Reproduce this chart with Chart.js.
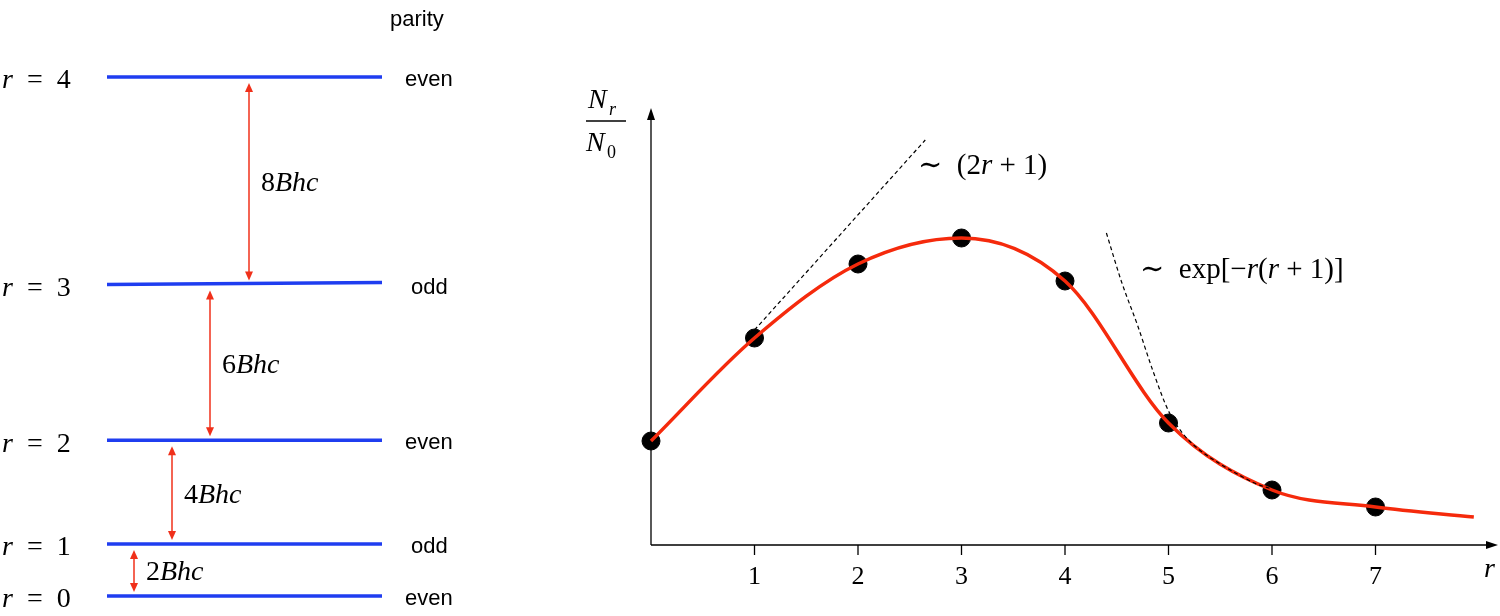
<!DOCTYPE html>
<html><head><meta charset="utf-8">
<script src="https://cdn.jsdelivr.net/npm/chart.js@4"></script>
<style>
html,body{margin:0;padding:0;background:#fff;width:1500px;height:616px;overflow:hidden}
#wl{position:absolute;left:0;top:0;width:500px;height:616px}
#wr{position:absolute;left:500px;top:0;width:1000px;height:616px}
</style></head><body>
<div id="wl"><canvas id="cl"></canvas></div>
<div id="wr"><canvas id="cr"></canvas></div>
<script>
// Left: rotational levels
const levels=[0,1,2,3,4];
const levelEnergy=[0,2,6,12,20];
const parity=["even","odd","even","odd","even"];
const gapLabels=["2Bhc","4Bhc","6Bhc","8Bhc"];
// Right: population
const rValues=[0,1,2,3,4,5,6,7];
const population=[104,207,281,307,264,122,55,38];
const curveR=[0,1,2,3,4,5,6,7,7.95];
const curveY=[104,207,281,307,264,122,55,38,28];
const linR=[1,2.65];
const linY=[215,405];
const expR=[4.4,4.55,4.7,4.85,5.0,5.15,5.3,5.5,5.7,5.85,6.0];
const expY=[312,262,220,174,134,110,95,81,69,61,56];
const xTicks=[1,2,3,4,5,6,7];

const SERIF='"Liberation Serif","DejaVu Serif",serif';
const SANS='"Liberation Sans",Arial,sans-serif';
function mathText(ctx,parts,x,y,size){
  let cx=x;
  for(const [t,it] of parts){
    ctx.font=(it?'italic ':'')+size+'px '+SERIF;
    ctx.fillText(t,cx,y);cx+=ctx.measureText(t).width;
  }
  return cx;
}
function arrowHead(ctx,x,y,dir,col){
  ctx.fillStyle=col;ctx.beginPath();
  ctx.moveTo(x,y);ctx.lineTo(x-4,y-dir*9);ctx.lineTo(x+4,y-dir*9);ctx.closePath();ctx.fill();
}
const levelLines=levels.map((r,i)=>({
  data:[{x:107,y:levelEnergy[i]},{x:382,y:levelEnergy[i]+(i===3?0.08:0)}],
  borderColor:'#1f3df0',borderWidth:3.5,pointRadius:0,showLine:true
}));
const arrowX=[134,172,210,249];
const leftPlugin={id:'lp',afterDatasetsDraw(ch){
  const ctx=ch.ctx,ys=ch.scales.y;ctx.save();
  ctx.textBaseline='middle';
  levels.forEach((r,i)=>{
    const py=ys.getPixelForValue(levelEnergy[i]);
    ctx.fillStyle='#000';
    mathText(ctx,[['r',1],['  =  '+r,0]],2,py+4,28);
    ctx.font='22px '+SANS;ctx.fillText(parity[i],i%2?411:405,py+3);
  });
  ctx.font='22px '+SANS;ctx.fillText('parity',390,20);
  const col='#f0301a';
  for(let i=0;i<4;i++){
    const y1=ys.getPixelForValue(levelEnergy[i])-4,y2=ys.getPixelForValue(levelEnergy[i+1])+6;
    const x=arrowX[i];
    ctx.strokeStyle=col;ctx.lineWidth=1.5;ctx.beginPath();ctx.moveTo(x,y1-6);ctx.lineTo(x,y2+6);ctx.stroke();
    arrowHead(ctx,x,y1,1,col);arrowHead(ctx,x,y2,-1,col);
    ctx.fillStyle='#000';
    const m=gapLabels[i];
    mathText(ctx,[[m[0],0],['Bhc',1]],x+12,(y1+y2)/2+2,28);
  }
  ctx.restore();
}};
new Chart(document.getElementById('cl'),{type:'scatter',data:{datasets:levelLines},
 options:{responsive:true,maintainAspectRatio:false,animation:false,layout:{padding:0,autoPadding:false},
  plugins:{legend:{display:false},tooltip:{enabled:false}},
  scales:{x:{type:'linear',display:false,min:0,max:500},y:{type:'linear',display:false,min:-20/25.95,max:596/25.95}}},
 plugins:[leftPlugin]});

const rightPlugin={id:'rp',beforeDatasetsDraw(ch){
  const ctx=ch.ctx,xs=ch.scales.x,ys=ch.scales.y;ctx.save();
  const ox=xs.getPixelForValue(0),oy=ys.getPixelForValue(0);
  ctx.strokeStyle='#000';ctx.lineWidth=1.3;ctx.beginPath();
  ctx.moveTo(ox,oy);ctx.lineTo(990,oy);ctx.moveTo(ox,oy);ctx.lineTo(ox,ys.getPixelForValue(430));ctx.stroke();
  ctx.fillStyle='#000';
  ctx.beginPath();ctx.moveTo(998,oy);ctx.lineTo(986,oy-4);ctx.lineTo(986,oy+4);ctx.fill();
  const ty=ys.getPixelForValue(437);
  ctx.beginPath();ctx.moveTo(ox,ty);ctx.lineTo(ox-4,ty+12);ctx.lineTo(ox+4,ty+12);ctx.fill();
  ctx.textBaseline='middle';ctx.textAlign='center';
  xTicks.forEach(t=>{const px=xs.getPixelForValue(t);
    ctx.beginPath();ctx.moveTo(px,oy);ctx.lineTo(px,oy+10);ctx.stroke();
    ctx.font='26px '+SERIF;ctx.fillText(String(t),px,oy+32);});
  ctx.textAlign='left';
  mathText(ctx,[['r',1]],984,oy+25,28);
  ctx.font='italic 28px '+SERIF;ctx.fillText('N',88,101);
  ctx.font='italic 18px '+SERIF;ctx.fillText('r',109,110);
  ctx.beginPath();ctx.moveTo(86,121);ctx.lineTo(126,121);ctx.stroke();
  ctx.font='italic 28px '+SERIF;ctx.fillText('N',86,144);
  ctx.font='18px '+SERIF;ctx.fillText('0',107,153);
  mathText(ctx,[['∼  (2',0],['r',1],[' + 1)',0]],418,166,29);
  mathText(ctx,[['∼  exp[−',0],['r',1],['(',0],['r',1],[' + 1)]',0]],640,270,29);
  ctx.restore();
}};
new Chart(document.getElementById('cr'),{type:'scatter',
 data:{datasets:[
  {data:linR.map((r,i)=>({x:r,y:linY[i]})),showLine:true,borderColor:'#000',borderWidth:1.2,borderDash:[4,3],pointRadius:0},
  {data:expR.map((r,i)=>({x:r,y:expY[i]})),showLine:true,borderColor:'#000',borderWidth:1.2,borderDash:[4,3],pointRadius:0,cubicInterpolationMode:'monotone'},
  {data:curveR.map((r,i)=>({x:r,y:curveY[i]})),showLine:true,borderColor:'#f52a0c',borderWidth:3.5,pointRadius:0,cubicInterpolationMode:'monotone'},
  {data:rValues.map((r,i)=>({x:r,y:population[i]})),showLine:false,backgroundColor:'#000',borderColor:'#000',pointRadius:9}
 ]},
 options:{responsive:true,maintainAspectRatio:false,animation:false,layout:{padding:0,autoPadding:false},
  plugins:{legend:{display:false},tooltip:{enabled:false}},
  scales:{x:{type:'linear',display:false,min:-151/103.5,max:849/103.5},y:{type:'linear',display:false,min:-71,max:545}}},
 plugins:[rightPlugin]});
</script></body></html>
